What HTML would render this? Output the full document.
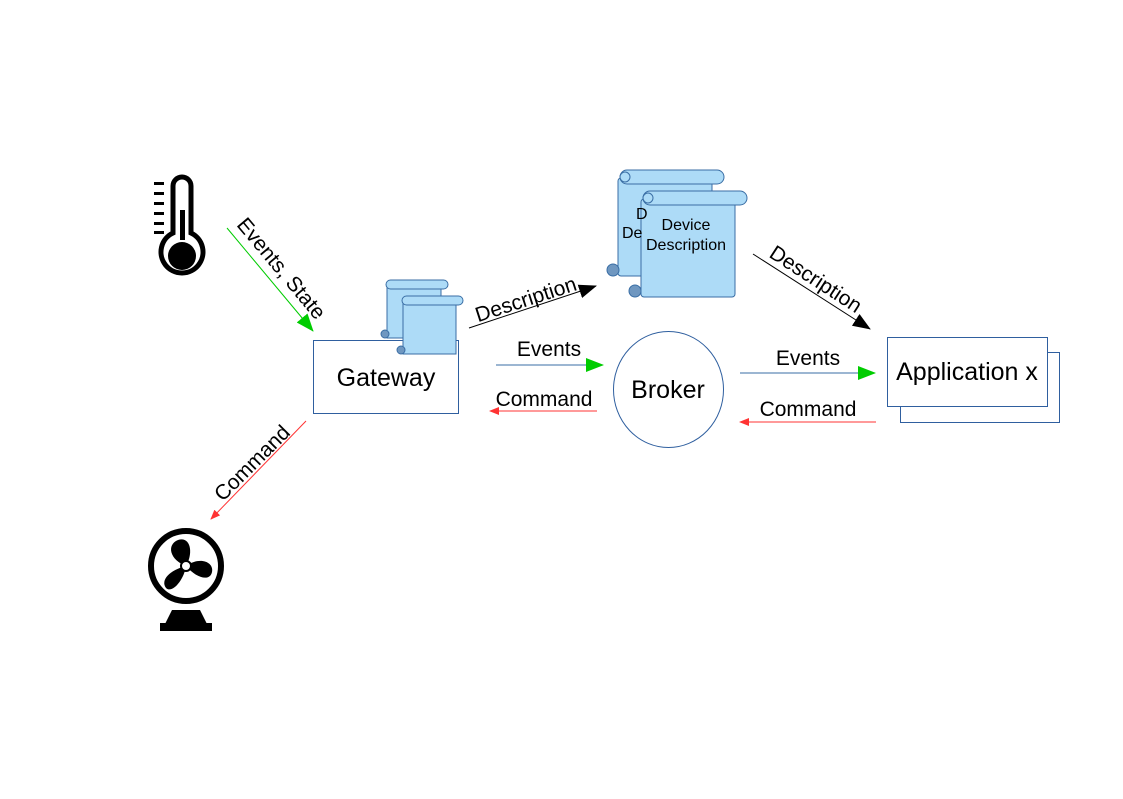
<!DOCTYPE html>
<html><head><style>
html,body{margin:0;padding:0;background:#fff;}
svg text{font-family:"Liberation Sans",sans-serif;}
</style></head><body>
<svg width="1123" height="794" viewBox="0 0 1123 794" xmlns="http://www.w3.org/2000/svg">
<defs>
<marker id="agb" markerWidth="18" markerHeight="14" refX="17" refY="7" orient="auto" markerUnits="userSpaceOnUse"><path d="M0,0 L18,7 L0,14 z" fill="#00cc00"/></marker>
<marker id="ar" markerWidth="10" markerHeight="8" refX="9" refY="4" orient="auto" markerUnits="userSpaceOnUse"><path d="M0,0 L10,4 L0,8 z" fill="#ff3333"/></marker>
<marker id="ak" markerWidth="18" markerHeight="14" refX="17" refY="7" orient="auto" markerUnits="userSpaceOnUse"><path d="M0,0 L18,7 L0,14 z" fill="#000"/></marker>
</defs>

<!-- thermometer -->
<g fill="#000">
<rect x="154" y="182" width="10" height="3"/><rect x="154" y="192" width="10" height="3"/><rect x="154" y="202" width="10" height="3"/><rect x="154" y="212" width="10" height="3"/><rect x="154" y="222" width="10" height="3"/><rect x="154" y="231" width="10" height="3"/>
</g>
<path d="M173,186 a9,9 0 0 1 18,0 v47 a21,21 0 1 1 -18,0 z" fill="none" stroke="#000" stroke-width="5"/>
<rect x="180" y="210" width="5" height="30" fill="#000"/>
<circle cx="182" cy="256" r="14" fill="#000"/>

<!-- fan -->
<circle cx="186" cy="566" r="35" fill="none" stroke="#000" stroke-width="6"/>
<g fill="#000">
<path d="M186,566 C170,560 166,545 178,540 C190,536 194,552 186,566 z"/>
<path d="M186,566 C200,556 214,562 212,572 C210,582 196,578 186,566 z"/>
<path d="M186,566 C184,580 172,594 166,588 C160,580 170,570 186,566 z"/>
</g>
<circle cx="186" cy="566" r="5" fill="#fff" stroke="#000" stroke-width="2"/>
<path d="M172,610 h28 l7,14 h-42 z" fill="#000"/>
<rect x="160" y="623" width="52" height="8" fill="#000"/>

<!-- Gateway -->
<rect x="313.5" y="340.5" width="145" height="73" fill="#fff" stroke="#2f5f9f" stroke-width="1"/>
<text x="386" y="386" font-size="25" text-anchor="middle">Gateway</text>

<!-- small scrolls -->
<g stroke="#3a6ea5" stroke-width="1" fill="#addbf7">
<rect x="387" y="285" width="54" height="53"/>
<rect x="386" y="280" width="62" height="9" rx="4.5"/>
<circle cx="385" cy="334" r="4" fill="#6f97c0"/>
<rect x="403" y="301" width="53" height="53"/>
<rect x="402" y="296" width="61" height="9" rx="4.5"/>
<circle cx="401" cy="350" r="4" fill="#6f97c0"/>
</g>

<!-- big scrolls -->
<g stroke="#3a6ea5" stroke-width="1" fill="#addbf7">
<rect x="618" y="178" width="94" height="98" rx="3"/>
<rect x="620" y="170" width="104" height="14" rx="7"/>
<circle cx="625" cy="177" r="5" fill="#addbf7"/>
<circle cx="613" cy="270" r="6" fill="#6f97c0"/>
<rect x="641" y="199" width="94" height="98" rx="3"/>
<rect x="643" y="191" width="104" height="14" rx="7"/>
<circle cx="648" cy="198" r="5" fill="#addbf7"/>
<circle cx="635" cy="291" r="6" fill="#6f97c0"/>
</g>
<text x="636" y="219" font-size="16">D</text>
<text x="622" y="238" font-size="16">De</text>
<text x="686" y="230" font-size="16" text-anchor="middle">Device</text>
<text x="686" y="250" font-size="16" text-anchor="middle">Description</text>

<!-- Broker -->
<ellipse cx="668.5" cy="389.5" rx="55" ry="58" fill="#fff" stroke="#2f5f9f"/>
<text x="668" y="398" font-size="25" text-anchor="middle">Broker</text>

<!-- Application -->
<rect x="900.5" y="352.5" width="159" height="70" fill="#fff" stroke="#2f5f9f"/>
<rect x="887.5" y="337.5" width="160" height="69" fill="#fff" stroke="#2f5f9f"/>
<text x="967" y="380" font-size="25" text-anchor="middle">Application x</text>

<!-- arrows -->
<line x1="227" y1="228" x2="313" y2="331" stroke="#00cc00" stroke-width="1" marker-end="url(#agb)"/>
<text transform="translate(276,273) rotate(50)" font-size="21" text-anchor="middle">Events, State</text>

<line x1="306" y1="421" x2="211" y2="519" stroke="#ff3333" stroke-width="1" marker-end="url(#ar)"/>
<text transform="translate(257,468) rotate(-45)" font-size="21" text-anchor="middle">Command</text>

<line x1="469" y1="328" x2="596" y2="286" stroke="#000" stroke-width="1" marker-end="url(#ak)"/>
<text transform="translate(528,306) rotate(-18)" font-size="21" text-anchor="middle">Description</text>

<line x1="753" y1="254" x2="870" y2="329" stroke="#000" stroke-width="1" marker-end="url(#ak)"/>
<text transform="translate(812,285) rotate(33)" font-size="21" text-anchor="middle">Description</text>

<line x1="496" y1="365" x2="603" y2="365" stroke="#3a6ea5" stroke-width="1" marker-end="url(#agb)"/>
<text x="549" y="356" font-size="21" text-anchor="middle">Events</text>
<line x1="597" y1="411" x2="490" y2="411" stroke="#ff3333" stroke-width="1" marker-end="url(#ar)"/>
<text x="544" y="406" font-size="21" text-anchor="middle">Command</text>

<line x1="740" y1="373" x2="875" y2="373" stroke="#3a6ea5" stroke-width="1" marker-end="url(#agb)"/>
<text x="808" y="365" font-size="21" text-anchor="middle">Events</text>
<line x1="876" y1="422" x2="740" y2="422" stroke="#ff3333" stroke-width="1" marker-end="url(#ar)"/>
<text x="808" y="416" font-size="21" text-anchor="middle">Command</text>
</svg>
</body></html>
